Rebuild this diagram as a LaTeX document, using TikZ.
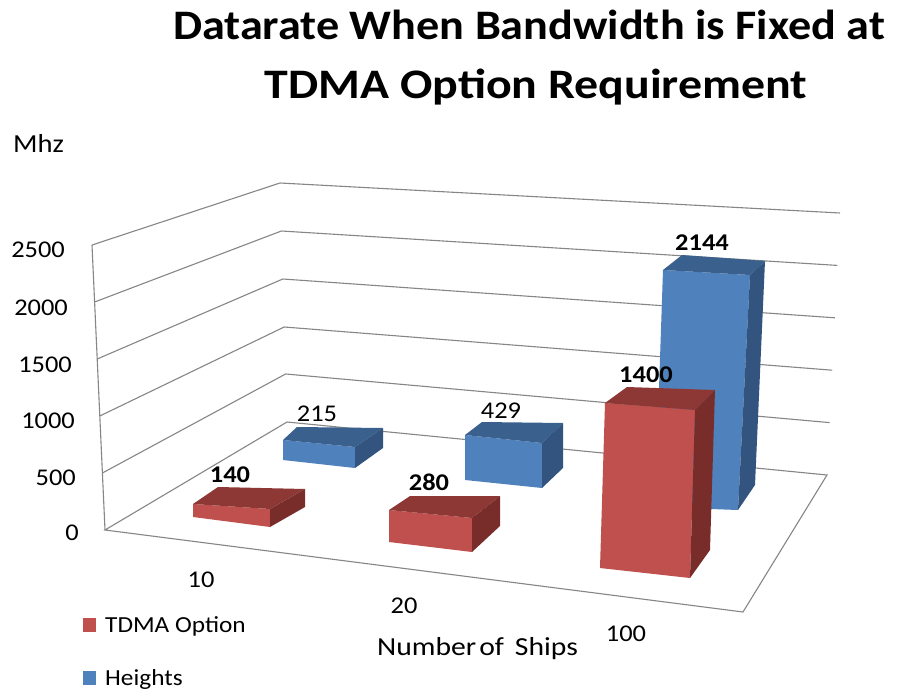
\documentclass[tikz,border=0pt]{standalone}
\usepackage{fontspec}
\setmainfont{Carlito}[FakeStretch=1.1]
\newfontfamily\ttlB{Carlito}[FakeStretch=1.14]
\newfontfamily\axfont{Carlito}[FakeStretch=1.14]
\definecolor{redF}{RGB}{192,80,77}
\definecolor{redT}{RGB}{142,56,54}
\definecolor{redS}{RGB}{120,45,43}
\definecolor{bluF}{RGB}{79,129,189}
\definecolor{bluT}{RGB}{58,96,142}
\definecolor{bluS}{RGB}{50,84,126}
\definecolor{gridc}{RGB}{134,134,134}
\tikzset{
  gridline/.style={draw=gridc, line width=1.1pt},
  lbl/.style={inner sep=0pt, anchor=base, font=\fontsize{24}{29}\selectfont},
  lblw/.style={inner sep=0pt, anchor=base east, font=\fontsize{24}{29}\selectfont},
  lgd/.style={inner sep=0pt, anchor=base west, font=\fontsize{23}{28}\selectfont},
  dlbl/.style={inner sep=0pt, anchor=base, font=\fontsize{24}{29}\selectfont\bfseries},
  ttl/.style={inner sep=0pt, anchor=base, font=\fontsize{42}{50}\selectfont\bfseries},
}
\begin{document}
\begin{tikzpicture}[x=1pt,y=-1pt]
\useasboundingbox[fill=white] (0,0) rectangle (911,696);
% title
\node[ttl] (t1) at (529,39) {Datarate When Bandwidth is Fixed at};
\node[ttl, font=\fontsize{42}{50}\selectfont\ttlB\bfseries] (t2) at (536,98) {TDMA Option Requirement};
\node[inner sep=0pt, anchor=base west, font=\fontsize{26}{30}\selectfont] (mhz) at (13,152) {Mhz};
% wall and floor gridlines
\draw[gridline] (92,245) -- (280,183) -- (840,213);
\draw[gridline] (94.6,302) -- (281.4,231) -- (837.4,265.4);
\draw[gridline] (97.2,359) -- (282.8,279) -- (834.8,317.8);
\draw[gridline] (99.8,416) -- (284.2,327) -- (832.2,370.2);
\draw[gridline] (102.4,473) -- (285.6,374) -- (829.6,422.6);
\draw[gridline] (105,530) -- (287,422) -- (827,475) -- (743,612) -- cycle;
\draw[gridline] (92,245) -- (105,530);
% y tick labels
\node[lblw] (y2500) at (65,257) {2500};
\node[lblw] (y2000) at (68,315) {2000};
\node[lblw] (y1500) at (72,372) {1500};
\node[lblw] (y1000) at (75,428) {1000};
\node[lblw] (y500) at (76,485) {500};
\node[lblw] (y0) at (79,540) {0};
% blue bars (back row)
\fill[bluF] (283,440) -- (355,447) -- (355,468) -- (283,460) -- cycle;
\fill[bluT] (283,440) -- (297,427) -- (383,428) -- (355,447) -- cycle;
\fill[bluS] (355,447) -- (383,428) -- (383,448) -- (355,468) -- cycle;
\fill[bluF] (465,435) -- (542,443) -- (542,488) -- (465,480) -- cycle;
\fill[bluT] (465,435) -- (482,422) -- (563,423) -- (542,443) -- cycle;
\fill[bluS] (542,443) -- (563,423) -- (563,468) -- (542,488) -- cycle;
\fill[bluF] (663,270) -- (750,275) -- (738,510) -- (655,507) -- cycle;
\fill[bluT] (663,270) -- (682,255) -- (765,261) -- (750,275) -- cycle;
\fill[bluS] (750,275) -- (765,261) -- (755,485) -- (738,510) -- cycle;
% red bars (front row)
\fill[redF] (193,504) -- (270,509) -- (270,527) -- (193,517) -- cycle;
\fill[redT] (193,504) -- (218,487) -- (305,489) -- (270,509) -- cycle;
\fill[redS] (270,509) -- (305,489) -- (305,507) -- (270,527) -- cycle;
\fill[redF] (389,510) -- (472,518) -- (472,552) -- (389,542) -- cycle;
\fill[redT] (389,510) -- (410,496) -- (500,496) -- (472,518) -- cycle;
\fill[redS] (472,518) -- (500,496) -- (500,526) -- (472,552) -- cycle;
\fill[redF] (605,403) -- (695,410) -- (690,578) -- (600,568) -- cycle;
\fill[redT] (605,403) -- (627,387) -- (715,390) -- (695,410) -- cycle;
\fill[redS] (695,410) -- (715,390) -- (710,550) -- (690,578) -- cycle;
% data labels
\node[dlbl] (d140) at (230,482) {140};
\node[lbl] (d215) at (317,421) {215};
\node[dlbl] (d280) at (429,490) {280};
\node[lbl] (d429) at (501,418) {429};
\node[dlbl] (d1400) at (646,382) {1400};
\node[dlbl] (d2144) at (702,250) {2144};
% category labels
\node[lbl] (c10) at (201,587) {10};
\node[lbl] (c20) at (404,613) {20};
\node[lbl] (c100) at (626,641) {100};
\node[inner sep=0pt, anchor=base west, font=\fontsize{26}{30}\selectfont\axfont] (xt) at (377,655) {Number\hspace{3pt}of\hspace{11pt}Ships};
% legend
\fill[redF] (83,618) rectangle (96,632);
\node[lgd] (lg1) at (105,632) {TDMA Option};
\fill[bluF] (83,671) rectangle (96,685);
\node[lgd] (lg2) at (105,685) {Heights};
\end{tikzpicture}
\end{document}
